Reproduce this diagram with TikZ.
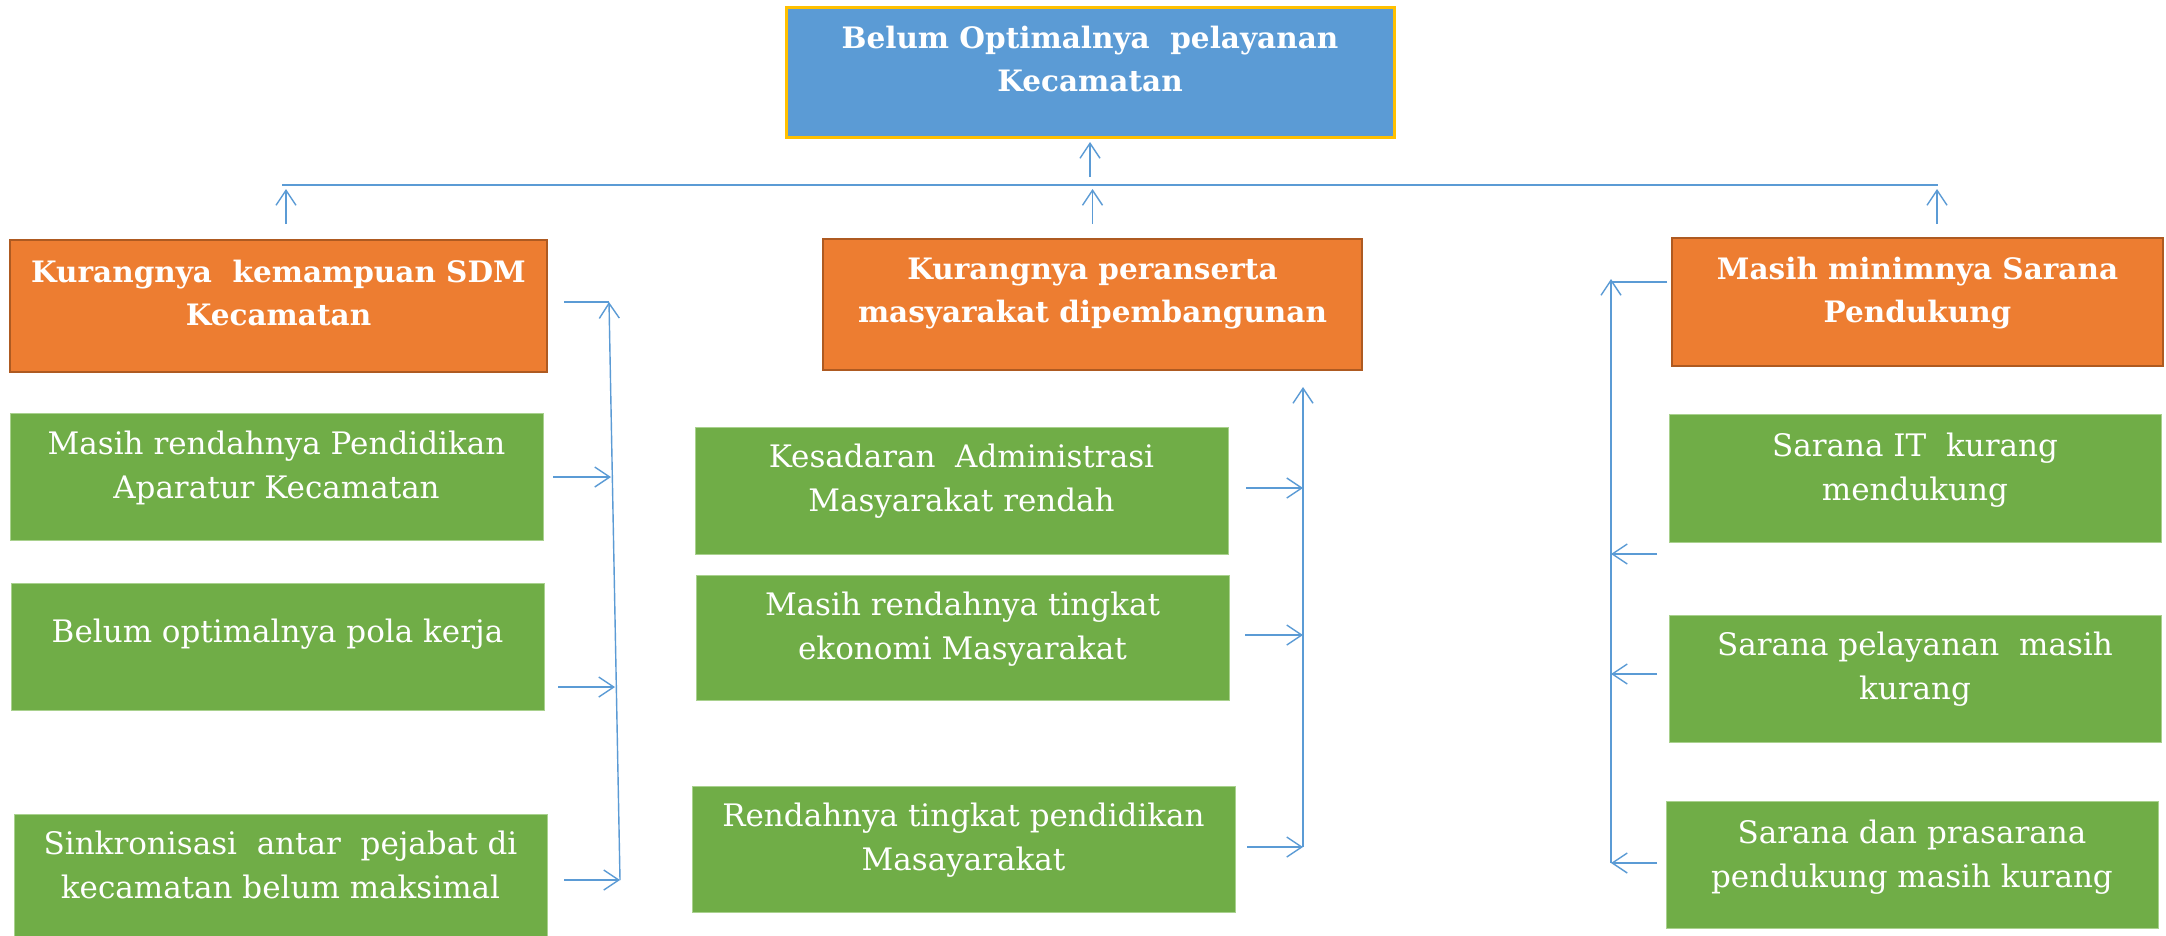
\documentclass[tikz,border=0pt]{standalone}
\usepackage{fontspec}
\setmainfont{DejaVu Serif}
\usetikzlibrary{arrows.meta}
\definecolor{topblue}{HTML}{5B9BD5}
\definecolor{gold}{HTML}{FFC000}
\definecolor{orfill}{HTML}{ED7D31}
\definecolor{ordraw}{HTML}{AE5A21}
\definecolor{grfill}{HTML}{70AD47}
\definecolor{grdraw}{HTML}{A9D18E}
\definecolor{conncol}{HTML}{5B9BD5}
\begin{document}
\begin{tikzpicture}[x=1pt,y=-1pt,
 boxbase/.style={anchor=north west, inner sep=0pt, outer sep=0pt},
 topbox/.style={boxbase, fill=topblue, draw=gold, line width=3pt},
 orbox/.style={boxbase, fill=orfill, draw=ordraw, line width=2.5pt},
 grbox/.style={boxbase, fill=grfill, draw=grdraw, line width=1pt},
 hdtext/.style={anchor=north, inner sep=0pt, align=center, text=white, font=\fontsize{29.5}{43}\selectfont\bfseries},
 grtext/.style={anchor=north, inner sep=0pt, align=center, text=white, font=\fontsize{31}{44}\selectfont},
 connline/.style={draw=conncol, line width=1.4pt},
 arr/.style={connline, -{Straight Barb[length=15pt,width=20pt,line width=1.4pt]}}
]
\fill[white] (0,0) rectangle (2166,935);
\useasboundingbox (0,0) rectangle (2166,935);

% top
\node[topbox, minimum width=608pt, minimum height=130pt] (top) at (786,7) {};
\node[hdtext] (topt) at ([yshift=-19pt]top.north) {Belum Optimalnya\ \ pelayanan\\Kecamatan};

% orange
\node[orbox, minimum width=537pt, minimum height=132pt] (ol) at (10,240) {};
\node[hdtext] (olt) at ([yshift=-20pt]ol.north) {Kurangnya\ \ kemampuan SDM\\Kecamatan};
\node[orbox, minimum width=539pt, minimum height=131pt] (om) at (823,239) {};
\node[hdtext] (omt) at ([yshift=-19pt]om.north) {Kurangnya peranserta\\masyarakat dipembangunan};
\node[orbox, minimum width=491pt, minimum height=128pt] (or) at (1672,238) {};
\node[hdtext] (ort) at ([yshift=-19pt]or.north) {Masih minimnya Sarana\\Pendukung};

% green left
\node[grbox, minimum width=533pt, minimum height=127pt] (g1) at (10,413) {};
\node[grtext] (g1t) at ([yshift=-18pt]g1.north) {Masih rendahnya Pendidikan\\Aparatur Kecamatan};
\node[grbox, minimum width=533pt, minimum height=127pt] (g2) at (11,583) {};
\node[grtext] (g2t) at ([yshift=-36pt]g2.north) {Belum optimalnya pola kerja};
\node[grbox, minimum width=533pt, minimum height=125pt] (g3) at (14,814) {};
\node[grtext] (g3t) at ([yshift=-17pt]g3.north) {Sinkronisasi\ \ antar\ \ pejabat di\\kecamatan belum maksimal};

% green middle
\node[grbox, minimum width=533pt, minimum height=127pt] (m1) at (695,427) {};
\node[grtext] (m1t) at ([yshift=-17pt]m1.north) {Kesadaran\ \ Administrasi\\Masyarakat rendah};
\node[grbox, minimum width=533pt, minimum height=125pt] (m2) at (696,575) {};
\node[grtext] (m2t) at ([yshift=-17pt]m2.north) {Masih rendahnya tingkat\\ekonomi Masyarakat};
\node[grbox, minimum width=543pt, minimum height=126pt] (m3) at (692,786) {};
\node[grtext] (m3t) at ([yshift=-17pt]m3.north) {Rendahnya tingkat pendidikan\\Masayarakat};

% green right
\node[grbox, minimum width=492pt, minimum height=128pt] (r1) at (1669,414) {};
\node[grtext] (r1t) at ([yshift=-19pt]r1.north) {Sarana IT\ \ kurang\\mendukung};
\node[grbox, minimum width=492pt, minimum height=127pt] (r2) at (1669,615) {};
\node[grtext] (r2t) at ([yshift=-17pt]r2.north) {Sarana pelayanan\ \ masih\\kurang};
\node[grbox, minimum width=492pt, minimum height=127pt] (r3) at (1666,801) {};
\node[grtext] (r3t) at ([yshift=-19pt]r3.north) {Sarana dan prasarana\\pendukung masih kurang};

% top connectors
\coordinate (hl) at (282,185);
\coordinate (hr) at (1938,185);
\draw[connline] (hl) -- (hr);
\draw[arr, shorten <=8pt, shorten >=5pt] (top.south |- hl) -- (top.south);
\coordinate (ua1) at (286,240);
\coordinate (ua3) at (1937,238);
\draw[arr, shorten <=16pt, shorten >=4pt] (ua1) -- (ua1 |- hl);
\draw[arr, shorten <=15pt, shorten >=4pt] (om.north) -- (om.north |- hl);
\draw[arr, shorten <=14pt, shorten >=4pt] (ua3) -- (ua3 |- hl);

% left bus
\coordinate (lbt) at (609,302);
\coordinate (lbb) at (620,880);
\coordinate (olh) at (564,302);
\draw[connline] (olh) -- (lbt);
\draw[arr] (lbb) -- (lbt);
\coordinate (l1) at (611,477);
\coordinate (l2) at (615,687);
\coordinate (l3) at (620,880);
\draw[arr, shorten <=10pt] (g1.east |- l1) -- (l1);
\draw[arr, shorten <=14pt] (g2.east |- l2) -- (l2);
\draw[arr, shorten <=17pt] (g3.east |- l3) -- (l3);

% middle bus
\coordinate (mbt) at (1303,387);
\coordinate (mbb) at (1303,847);
\draw[arr] (mbb) -- (mbt);
\coordinate (c1) at (1303,488);
\coordinate (c2) at (1303,635);
\coordinate (c3) at (1303,847);
\draw[arr, shorten <=18pt] (m1.east |- c1) -- (c1);
\draw[arr, shorten <=16pt] (m2.east |- c2) -- (c2);
\draw[arr, shorten <=12pt] (m3.east |- c3) -- (c3);

% right bus
\coordinate (rbt) at (1611,279);
\coordinate (rbb) at (1611,863);
\draw[arr] (rbb) -- (rbt);
\coordinate (orh) at (1611,282);
\draw[connline, shorten <=5pt] (or.west |- orh) -- (orh);
\coordinate (q1) at (1611,554);
\coordinate (q2) at (1611,674);
\coordinate (q3) at (1611,863);
\draw[arr, shorten <=12pt] (r1.west |- q1) -- (q1);
\draw[arr, shorten <=12pt] (r2.west |- q2) -- (q2);
\draw[arr, shorten <=9pt] (r3.west |- q3) -- (q3);
\end{tikzpicture}
\end{document}
